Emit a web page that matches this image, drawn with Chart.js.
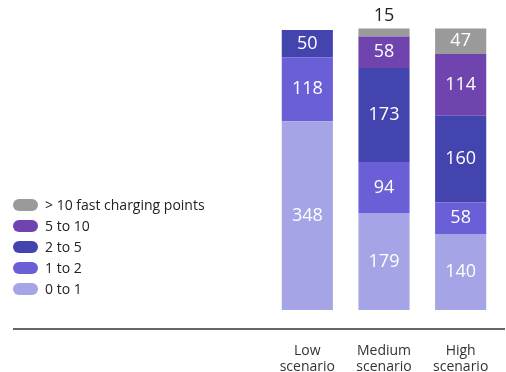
<!DOCTYPE html>
<html>
<head>
<meta charset="utf-8">
<script src="https://cdn.jsdelivr.net/npm/chart.js@4.4.1/dist/chart.umd.min.js"></script>
<style>
  html, body { margin: 0; padding: 0; background: #ffffff; }
  #wrap { width: 506px; height: 372px; position: relative; }
</style>
</head>
<body>
<div id="wrap"><canvas id="chart"></canvas></div>
<script>
// Scenarios and number of charging sites per class of fast charging points
const scenarios = [["Low", "scenario"], ["Medium", "scenario"], ["High", "scenario"]];
const seriesNames = ["0 to 1", "1 to 2", "2 to 5", "5 to 10", "> 10 fast charging points"];
const zeroToOne = [348, 179, 140];
const oneToTwo = [118, 94, 58];
const twoToFive = [50, 173, 160];
const fiveToTen = [null, 58, 114];
const overTen = [null, 15, 47];
const seriesColors = ["#a4a4e6", "#6a5fd6", "#4444ae", "#6f44ae", "#9a9a9a"];

const FONT = "'Open Sans', 'DejaVu Sans', sans-serif";
const seriesValues = [zeroToOne, oneToTwo, twoToFive, fiveToTen, overTen];

// Values inside segments; segments too small for text get the value above the bar
const valueLabels = {
  id: 'valueLabels',
  afterDatasetsDraw(chart) {
    const ctx = chart.ctx;
    ctx.save();
    ctx.font = "18px " + FONT;
    ctx.textAlign = 'center';
    chart.data.datasets.forEach((ds, di) => {
      const meta = chart.getDatasetMeta(di);
      meta.data.forEach((bar, i) => {
        const v = ds.data[i];
        if (v == null) return;
        const h = Math.abs(bar.base - bar.y);
        if (h >= 20) {
          ctx.fillStyle = '#ffffff';
          ctx.textBaseline = 'middle';
          ctx.fillText(String(v), bar.x, (bar.y + bar.base) / 2);
        } else {
          ctx.fillStyle = '#222222';
          ctx.textBaseline = 'bottom';
          ctx.fillText(String(v), bar.x, bar.y - 4);
        }
      });
    });
    ctx.restore();
  }
};

// Baseline running under the whole figure
const baseLine = {
  id: 'baseLine',
  afterDraw(chart) {
    const ctx = chart.ctx;
    ctx.save();
    ctx.strokeStyle = '#333333';
    ctx.lineWidth = 1.5;
    ctx.beginPath();
    ctx.moveTo(13, 329);
    ctx.lineTo(505, 329);
    ctx.stroke();
    ctx.restore();
  }
};

// Legend with pill markers, highest class on top
const pillLegend = {
  id: 'pillLegend',
  afterDraw(chart) {
    const ctx = chart.ctx;
    ctx.save();
    ctx.font = "14px " + FONT;
    ctx.textBaseline = 'middle';
    ctx.textAlign = 'left';
    const items = chart.data.datasets.slice().reverse();
    items.forEach((ds, k) => {
      const cy = 205 + k * 21;
      ctx.fillStyle = ds.backgroundColor;
      ctx.beginPath();
      ctx.roundRect(13, cy - 6, 25, 12, 6);
      ctx.fill();
      ctx.fillStyle = '#222222';
      ctx.fillText(ds.label, 45, cy + 1);
    });
    ctx.restore();
  }
};

new Chart(document.getElementById('chart'), {
  type: 'bar',
  data: {
    labels: scenarios,
    datasets: seriesNames.map((name, i) => ({
      label: name,
      data: seriesValues[i],
      backgroundColor: seriesColors[i],
      borderWidth: 0,
      barPercentage: 0.667,
      categoryPercentage: 1.0
    }))
  },
  options: {
    responsive: true,
    maintainAspectRatio: false,
    animation: false,
    layout: { padding: { top: 10, left: 269, right: 7, bottom: 0 } },
    plugins: {
      legend: { display: false },
      tooltip: { enabled: false }
    },
    scales: {
      x: {
        stacked: true,
        grid: { display: false, drawTicks: false },
        border: { display: false },
        afterFit(scale) {
          scale.height = 62;
          scale.paddingLeft = 0;
          scale.paddingRight = 0;
        },
        ticks: {
          padding: 33,
          maxRotation: 0,
          color: '#333333',
          font: { family: FONT, size: 14, lineHeight: 1.143 }
        }
      },
      y: {
        stacked: true,
        display: false,
        min: 0,
        max: 553
      }
    }
  },
  plugins: [valueLabels, baseLine, pillLegend]
});
</script>
</body>
</html>
